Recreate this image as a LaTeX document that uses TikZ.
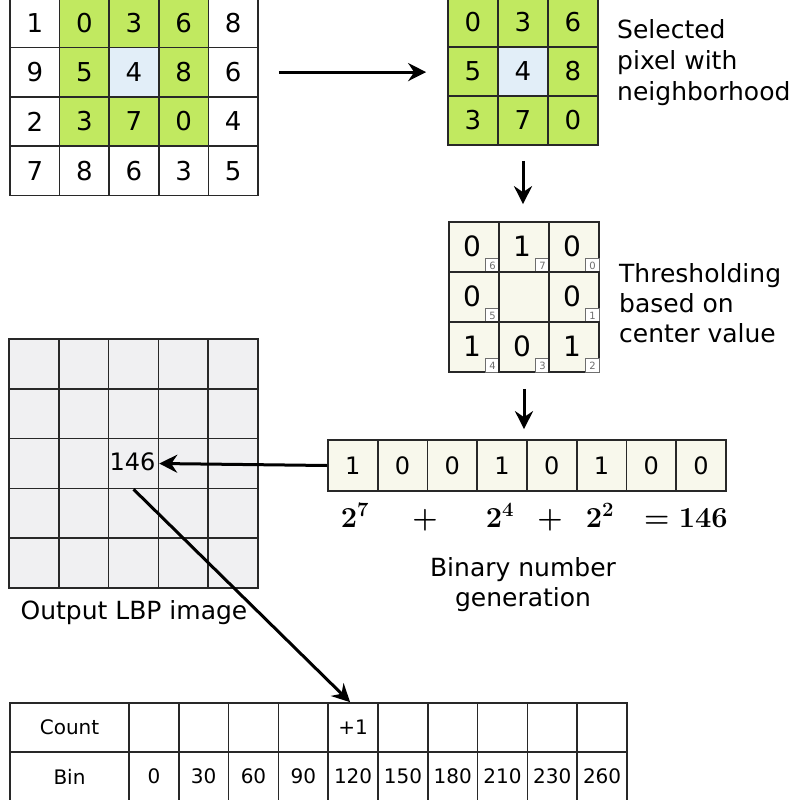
\RequirePackage{fix-cm}
\documentclass[tikz,border=0pt]{standalone}
\usepackage{fontspec}
\setmainfont{DejaVu Sans}
\usetikzlibrary{arrows.meta}
\definecolor{lime}{RGB}{193,233,96}
\definecolor{centerblue}{RGB}{226,238,248}
\definecolor{beige}{RGB}{248,248,236}
\definecolor{outgray}{RGB}{240,240,242}
\definecolor{gridline}{RGB}{40,40,40}
\definecolor{idxgray}{RGB}{110,110,110}
\tikzset{
  cellbox/.style={draw=gridline, line width=1.7pt, minimum width=49.6pt, minimum height=49.4pt, inner sep=0pt, font=\fontsize{26}{26}\selectfont},
  tcell/.style={draw=gridline, line width=1.7pt, fill=beige, minimum width=50pt, minimum height=50pt, inner sep=0pt},
  tval/.style={inner sep=0pt, font=\fontsize{28}{28}\selectfont},
  idxbox/.style={draw=idxgray, line width=0.8pt, fill=white, minimum width=14pt, minimum height=14pt, inner sep=0pt, anchor=south east, font=\fontsize{10}{10}\selectfont, text=idxgray},
  bcell/.style={draw=gridline, line width=1.7pt, fill=beige, minimum width=49.75pt, minimum height=51pt, inner sep=0pt, font=\fontsize{24}{24}\selectfont},
  ocell/.style={draw=gridline, line width=1.7pt, fill=outgray, minimum width=49.8pt, minimum height=49.8pt, inner sep=0pt, font=\fontsize{24}{24}\selectfont},
  hcell/.style={draw=gridline, line width=1.7pt, fill=white, minimum width=49.8pt, minimum height=49pt, inner sep=0pt, font=\fontsize{20}{20}\selectfont},
  hlabel/.style={hcell, minimum width=119pt},
  lbl/.style={inner sep=0pt, font=\fontsize{25}{31}\selectfont},
  mathtxt/.style={inner sep=0pt, anchor=base, font=\fontsize{29}{35}\selectfont\boldmath},
  arr/.style={line width=3pt, -{Stealth[length=18pt,width=18pt,inset=6pt]}}
}
\begin{document}
\begin{tikzpicture}[x=1pt,y=-1pt]
\useasboundingbox (0,0) rectangle (800,800);
% input image grid
\foreach \v/\f [count=\c] in {1/white,0/lime,3/lime,6/lime,8/white}
  \node[cellbox, fill=\f] (L-1-\c) at ({10+49.6*(\c-0.5)},{-2+49.4*0.5}) {\v};
\foreach \v/\f [count=\c] in {9/white,5/lime,4/centerblue,8/lime,6/white}
  \node[cellbox, fill=\f] (L-2-\c) at ({10+49.6*(\c-0.5)},{-2+49.4*1.5}) {\v};
\foreach \v/\f [count=\c] in {2/white,3/lime,7/lime,0/lime,4/white}
  \node[cellbox, fill=\f] (L-3-\c) at ({10+49.6*(\c-0.5)},{-2+49.4*2.5}) {\v};
\foreach \v/\f [count=\c] in {7/white,8/white,6/white,3/white,5/white}
  \node[cellbox, fill=\f] (L-4-\c) at ({10+49.6*(\c-0.5)},{-2+49.4*3.5}) {\v};
% neighborhood
\foreach \v/\f [count=\c] in {0/lime,3/lime,6/lime}
  \node[cellbox, minimum width=50pt, minimum height=49pt, fill=\f] (R-1-\c) at ({448+50*(\c-0.5)},{-2+49*0.5}) {\v};
\foreach \v/\f [count=\c] in {5/lime,4/centerblue,8/lime}
  \node[cellbox, minimum width=50pt, minimum height=49pt, fill=\f] (R-2-\c) at ({448+50*(\c-0.5)},{-2+49*1.5}) {\v};
\foreach \v/\f [count=\c] in {3/lime,7/lime,0/lime}
  \node[cellbox, minimum width=50pt, minimum height=49pt, fill=\f] (R-3-\c) at ({448+50*(\c-0.5)},{-2+49*2.5}) {\v};
\node[lbl, anchor=west, align=left] (sel) at (617,63) {Selected\\pixel with\\neighborhood};
% thresholding
\foreach \r/\c/\v/\i in {1/1/0/6,1/2/1/7,1/3/0/0,2/1/0/5,2/3/0/1,3/1/1/4,3/2/0/3,3/3/1/2}{
  \node[tcell] (T-\r-\c) at ({449+50*(\c-0.5)},{222+50*(\r-0.5)}) {};
  \node[tval] (TV-\r-\c) at ([xshift=-2pt,yshift=1pt]T-\r-\c.center) {\v};
  \node[idxbox] (TI-\r-\c) at (T-\r-\c.south east) {\i};
}
\node[tcell] (T-2-2) at ({449+50*1.5},{222+50*1.5}) {};
\node[lbl, anchor=west, align=left, font=\fontsize{25}{30}\selectfont] (thr) at (619,303) {Thresholding\\based on\\center value};
% binary row
\foreach \v [count=\i] in {1,0,0,1,0,1,0,0}
  \node[bcell] (B-\i) at ({328+49.75*(\i-0.5)},465.5) {\v};
\node[mathtxt] (m1) at (355,527) {$2^7$};
\node[mathtxt] (m2) at (425,527) {$+$};
\node[mathtxt] (m3) at (500,527) {$2^4$};
\node[mathtxt] (m4) at (550,527) {$+$};
\node[mathtxt] (m5) at (600,527) {$2^2$};
\node[mathtxt] (m6) at (686,527) {$=146$};
\node[lbl, align=center, font=\fontsize{25}{30}\selectfont] (bin) at (523,585) {Binary number\\generation};
% output image
\foreach \r in {1,...,5}
  \foreach \c in {1,...,5}
    \node[ocell] (O-\r-\c) at ({9+49.8*(\c-0.5)},{339+49.8*(\r-0.5)}) {};
\node[inner sep=0pt, font=\fontsize{24}{24}\selectfont] (v146) at ([xshift=-1pt,yshift=2pt]O-3-3.center) {146};
\node[lbl] (out) at (134,613) {Output LBP image};
% histogram
\node[hlabel] (H-count) at (69.5,727.5) {Count};
\node[hlabel] (H-bin) at (69.5,776.5) {Bin};
\foreach \v [count=\i] in {0,30,60,90,120,150,180,210,230,260}{
  \node[hcell] (H-c\i) at ({129+49.8*(\i-0.5)},727.5) {};
  \node[hcell] (H-b\i) at ({129+49.8*(\i-0.5)},776.5) {\v};
}
\node[inner sep=0pt, font=\fontsize{20}{20}\selectfont] (plus1) at (H-c5.center) {+1};
% arrows
\draw[arr, shorten <=20pt, shorten >=21pt] (L-2-5.east) -- (L-2-5.east -| R-2-1.west);
\draw[arr, shorten <=15pt, shorten >=17pt] (R-3-2.south) -- (R-3-2.south |- T-1-2.north);
\draw[arr, shorten <=16pt, shorten >=10pt] (T-3-2.south) -- (T-3-2.south |- B-4.north);
\draw[arr] (B-1.west) -- (O-3-3.east);
\draw[arr] (O-3-3.south) -- ([xshift=-3pt]H-c5.north);
\end{tikzpicture}
\end{document}
